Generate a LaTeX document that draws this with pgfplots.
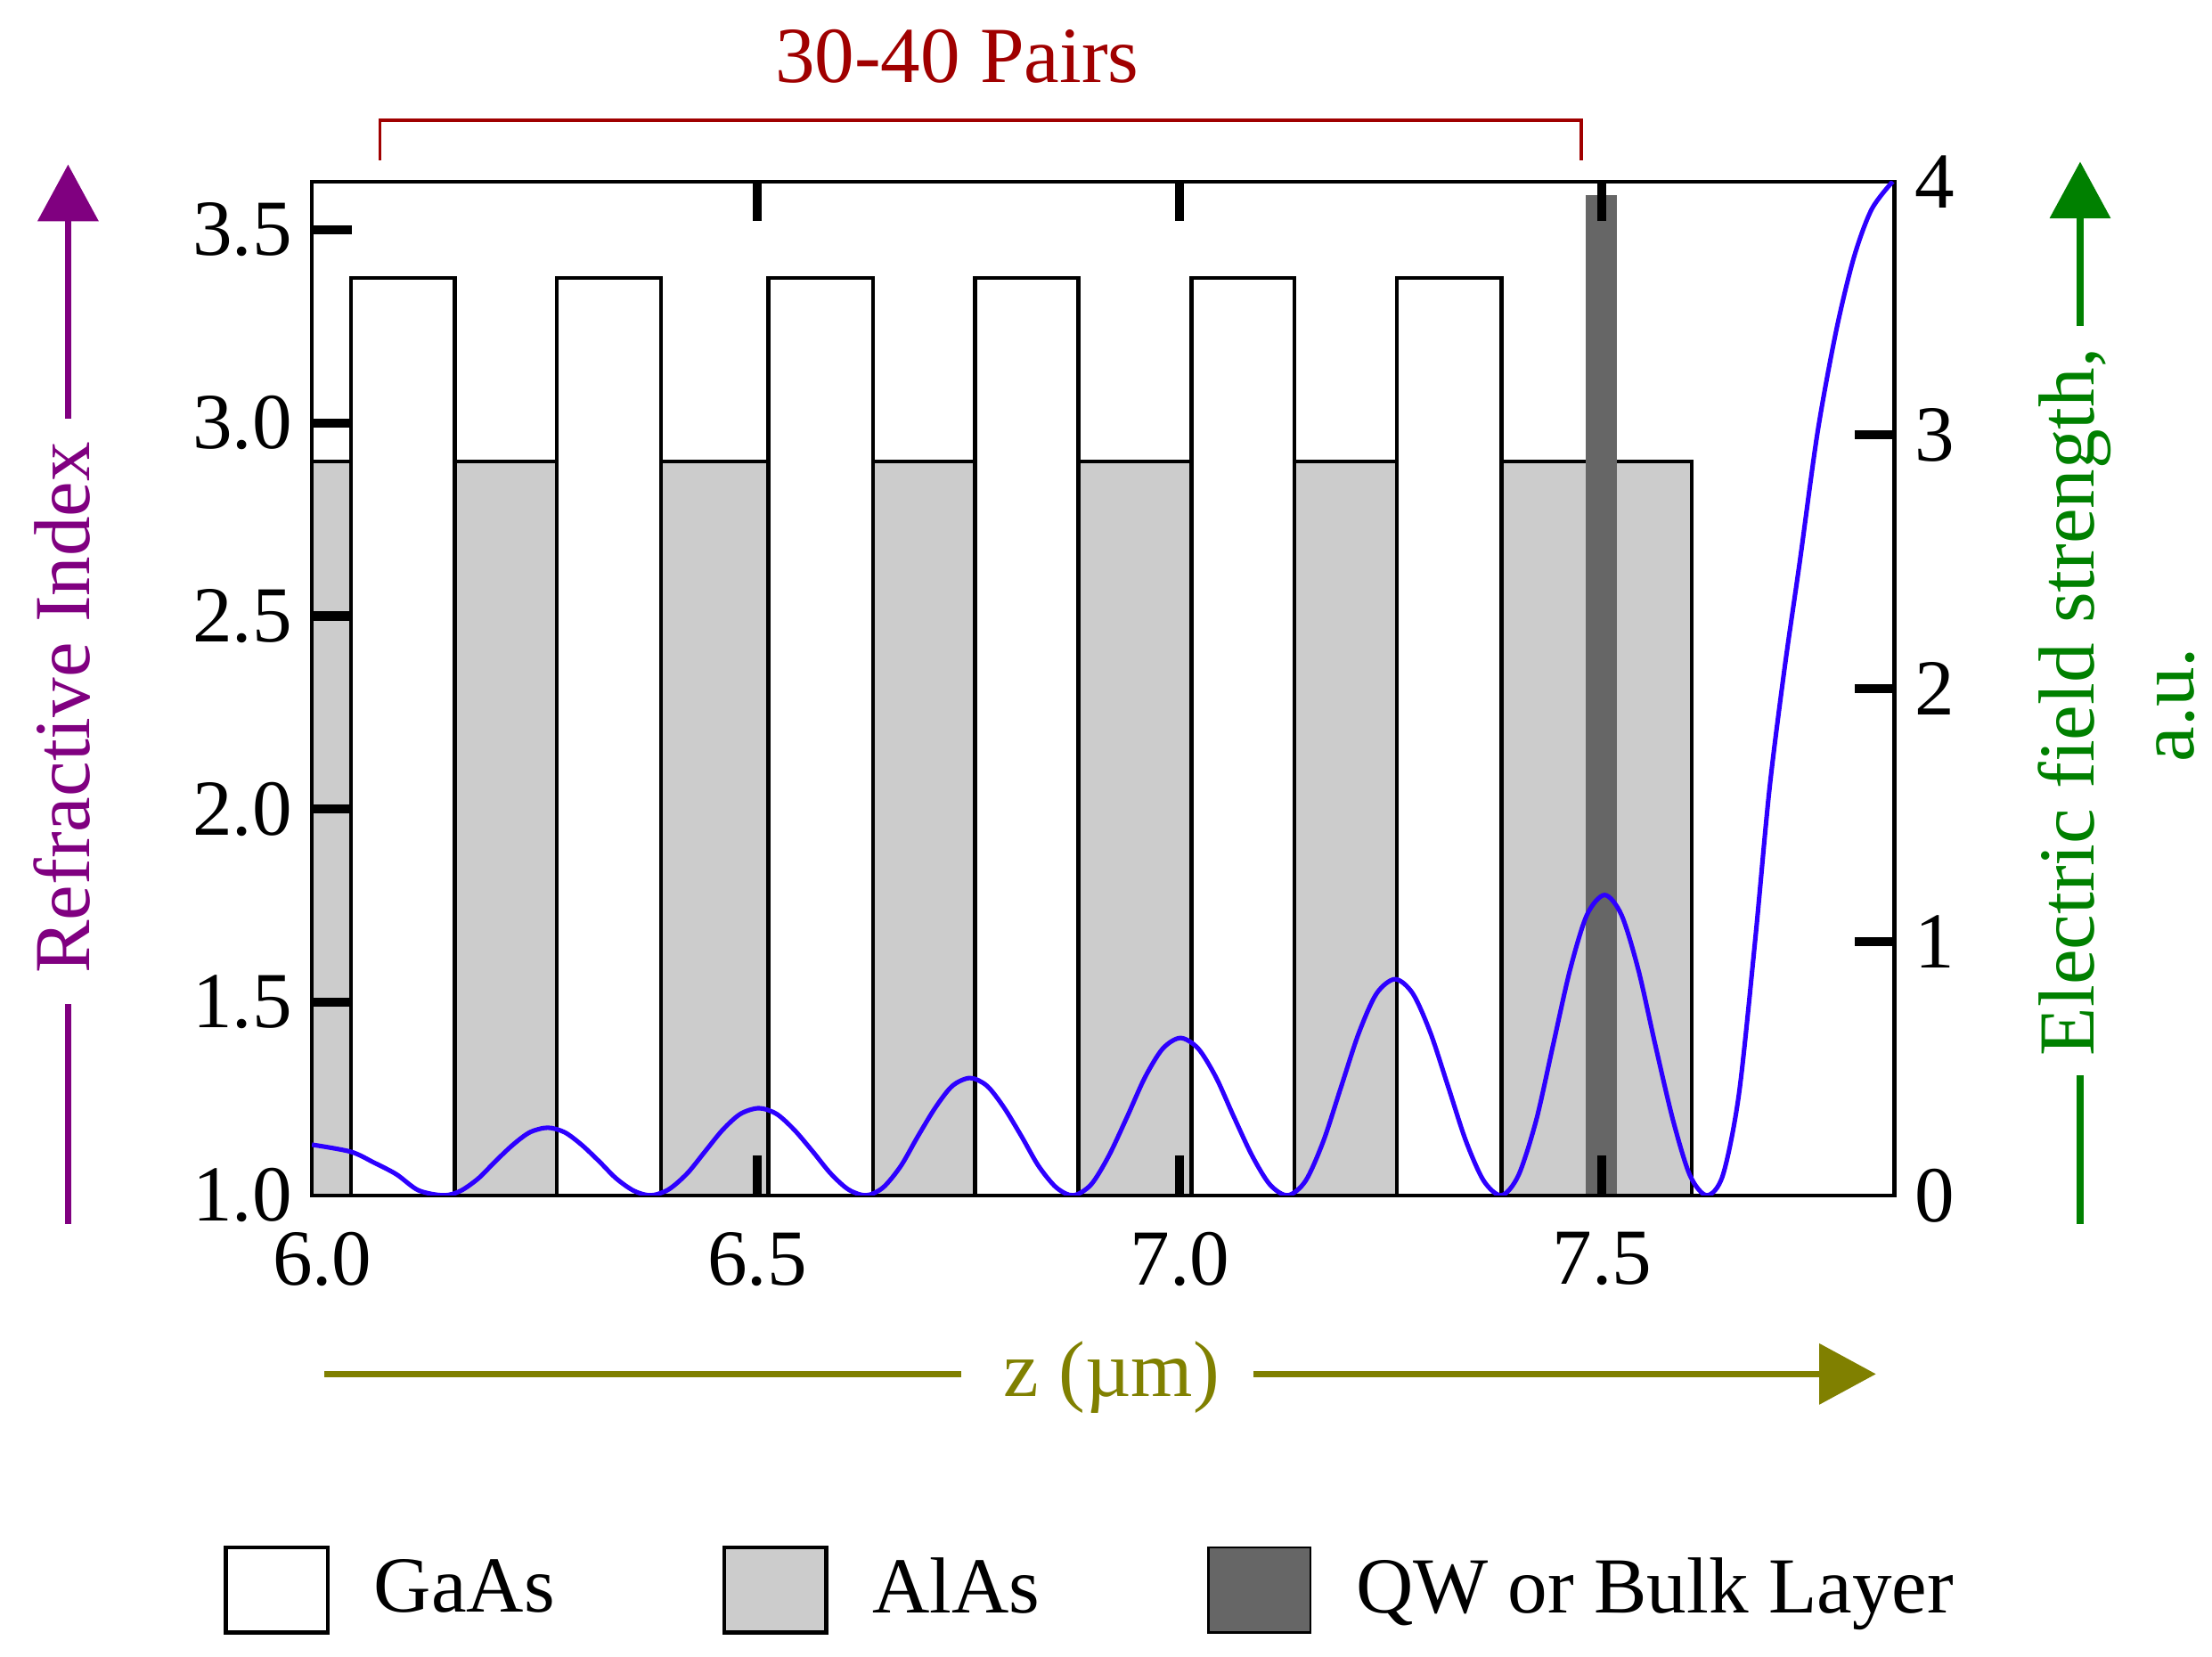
\documentclass[border=0pt]{standalone}
\usepackage{fontspec}
\setmainfont{Liberation Serif}
\usepackage{pgfplots}
\pgfplotsset{compat=1.18}
\usetikzlibrary{arrows.meta}

\definecolor{pairsred}{RGB}{160,0,0}
\definecolor{labpurple}{RGB}{128,0,128}
\definecolor{labgreen}{RGB}{0,128,0}
\definecolor{labolive}{RGB}{128,128,0}
\definecolor{fieldblue}{RGB}{45,0,255}
\definecolor{alas}{RGB}{204,204,204}
\definecolor{qw}{RGB}{102,102,102}

\newcommand{\lbl}{\fontsize{14}{16}\selectfont}

\begin{document}
\begin{tikzpicture}
% refractive index profile (left axis)
\begin{axis}[
  at={(55pt,-210.75pt)}, anchor=south west,
  scale only axis, width=279pt, height=178.75pt,
  xmin=5.973, xmax=7.846, ymin=1, ymax=3.625,
  axis on top,
  axis line style={line width=0.65pt},
  tick align=inside,
  xtick pos=both, ytick pos=left,
  xtick={6.5,7,7.5}, ytick={1.5,2,2.5,3,3.5},
  extra x ticks={6}, extra y ticks={1},
  extra tick style={major tick length=0pt},
  extra x tick style={x tick label style={xshift=-2.2pt}},
  major tick length=7pt,
  major tick style={line width=1.6pt, black},
  tick label style={font=\lbl},
  /pgf/number format/assume math mode=true,
  x tick label style={yshift=-3pt, /pgf/number format/fixed, /pgf/number format/fixed zerofill, /pgf/number format/precision=1},
  y tick label style={/pgf/number format/fixed, /pgf/number format/fixed zerofill, /pgf/number format/precision=1},
  legend columns=3,
  legend cell align=left,
  legend style={at={(-0.0565,-0.389)}, anchor=west, draw=none, fill=none,
    inner sep=0pt, font=\lbl, nodes={inner sep=0pt},
    /tikz/every odd column/.append style={column sep=7.8pt},
    /tikz/every even column/.append style={column sep=29.5pt}},
  legend image code/.code={\draw[#1] (0pt,-7.5pt) rectangle (18pt,7.5pt);},
]
\addplot[draw=black, line width=0.7pt, fill=white] coordinates {
  (6.019,1) (6.019,3.375) (6.142,3.375) (6.142,1)
  (6.263,1) (6.263,3.375) (6.386,3.375) (6.386,1)
  (6.513,1) (6.513,3.375) (6.637,3.375) (6.637,1)
  (6.758,1) (6.758,3.375) (6.880,3.375) (6.880,1)
  (7.014,1) (7.014,3.375) (7.136,3.375) (7.136,1)
  (7.257,1) (7.257,3.375) (7.381,3.375) (7.381,1)
};
\addlegendentry{GaAs}
\addplot[draw=black, line width=0.7pt, fill=alas] coordinates {
  (5.973,1) (5.973,2.9) (6.019,2.9) (6.019,1)
  (6.142,1) (6.142,2.9) (6.263,2.9) (6.263,1)
  (6.386,1) (6.386,2.9) (6.513,2.9) (6.513,1)
  (6.637,1) (6.637,2.9) (6.758,2.9) (6.758,1)
  (6.880,1) (6.880,2.9) (7.014,2.9) (7.014,1)
  (7.136,1) (7.136,2.9) (7.257,2.9) (7.257,1)
  (7.381,1) (7.381,2.9) (7.606,2.9) (7.606,1)
};
\addlegendentry{AlAs}
\addplot[draw=none, fill=qw] coordinates {
  (7.481,1) (7.481,3.59) (7.518,3.59) (7.518,1)
};
\addlegendentry{QW or Bulk Layer}
\end{axis}

% electric field (right axis)
\begin{axis}[
  at={(55pt,-210.75pt)}, anchor=south west,
  scale only axis, width=279pt, height=178.75pt,
  xmin=5.973, xmax=7.846, ymin=0, ymax=4,
  axis x line=none, axis y line*=right,
  axis line style={line width=0.65pt},
  tick align=inside,
  ytick={1,2,3}, extra y ticks={0,4},
  extra tick style={major tick length=0pt},
  major tick length=7pt,
  major tick style={line width=1.6pt, black},
  tick label style={font=\lbl},
  /pgf/number format/assume math mode=true,
]
\addplot[fieldblue, line width=0.8pt, smooth] coordinates {
  (5.973,0.20) (6.019,0.172) (6.046,0.13) (6.073,0.083) (6.099,0.02) (6.129,0)
  (6.149,0.018) (6.170,0.067) (6.190,0.134) (6.211,0.200) (6.231,0.249) (6.252,0.267)
  (6.272,0.249) (6.292,0.200) (6.313,0.134) (6.333,0.067) (6.354,0.018) (6.374,0)
  (6.395,0.023) (6.417,0.086) (6.438,0.172) (6.459,0.258) (6.480,0.321) (6.502,0.344)
  (6.523,0.321) (6.544,0.258) (6.566,0.172) (6.587,0.086) (6.608,0.023) (6.629,0)
  (6.649,0.031) (6.670,0.116) (6.690,0.232) (6.711,0.347) (6.731,0.432) (6.752,0.463)
  (6.772,0.432) (6.792,0.347) (6.813,0.232) (6.833,0.116) (6.854,0.031) (6.874,0)
  (6.895,0.042) (6.916,0.155) (6.938,0.311) (6.959,0.466) (6.980,0.579) (7.001,0.621)
  (7.022,0.579) (7.043,0.466) (7.064,0.311) (7.086,0.155) (7.107,0.042) (7.128,0)
  (7.149,0.057) (7.170,0.213) (7.191,0.427) (7.212,0.640) (7.233,0.796) (7.255,0.853)
  (7.276,0.796) (7.297,0.640) (7.318,0.427) (7.339,0.213) (7.360,0.057) (7.381,0)
  (7.401,0.079) (7.422,0.296) (7.442,0.593) (7.462,0.889) (7.482,1.106) (7.503,1.185)
  (7.523,1.106) (7.543,0.889) (7.563,0.593) (7.584,0.296) (7.604,0.079) (7.624,0)
  (7.643,0.08) (7.662,0.40) (7.681,1.0) (7.698,1.6) (7.716,2.08) (7.734,2.5)
  (7.755,3.01) (7.777,3.41) (7.798,3.70) (7.819,3.89) (7.844,4.0)
};
\end{axis}

% annotations, in units of the 1560x1168 reference grid
\begin{scope}[x=0.25pt, y=-0.25pt, font=\lbl]
  \node[pairsred] at (675,40) {30-40 Pairs};
  \draw[pairsred, line width=0.6pt] (268,113) -- (268,85) -- (1115,85) -- (1115,113);

  \draw[labpurple, line width=1.2pt] (48,863) -- (48,708);
  \draw[labpurple, line width=1.2pt, -{Triangle[length=10pt,width=10.5pt]}] (48,295) -- (48,116);
  \node[labpurple, rotate=90, anchor=base] at (63,499) {Refractive Index};

  \draw[labgreen, line width=1.2pt] (1467,863) -- (1467,758);
  \draw[labgreen, line width=1.2pt, -{Triangle[length=10pt,width=10.5pt]}] (1467,230) -- (1467,114);
  \node[labgreen, rotate=90, anchor=base] at (1477,495) {Electric field strength,};
  \node[labgreen, rotate=90, anchor=base] at (1547,497) {a.u.};

  \draw[labolive, line width=1.2pt] (229,969) -- (678,969);
  \draw[labolive, line width=1.2pt, -{Triangle[length=10pt,width=10.5pt]}] (884,969) -- (1323,969);
  \node[labolive, anchor=base] at (784,985) {z (µm)};

  \pgfresetboundingbox
  \path[use as bounding box] (0,0) rectangle (1560,1168);
\end{scope}
\end{tikzpicture}
\end{document}
